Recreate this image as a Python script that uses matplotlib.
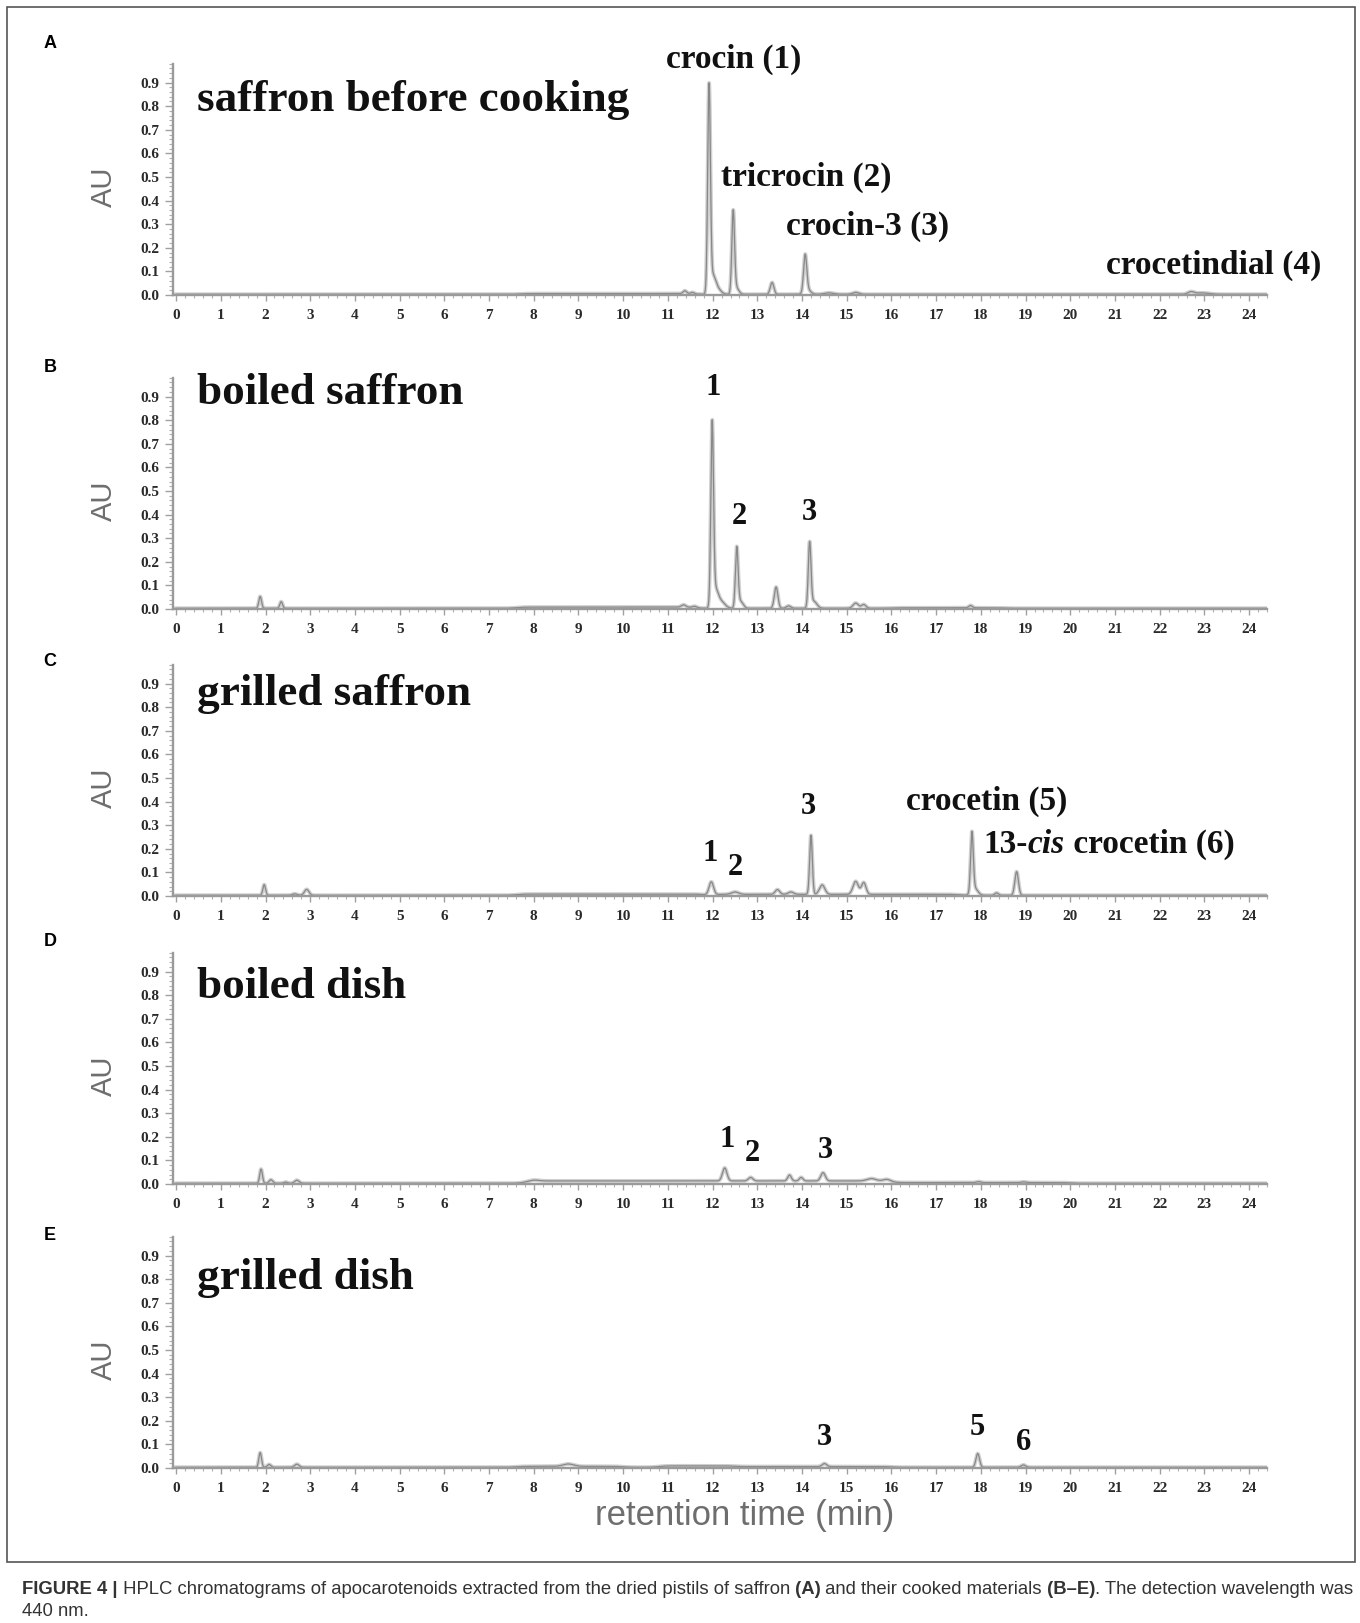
import numpy as np
import matplotlib
matplotlib.use("Agg")
import matplotlib.pyplot as plt
from matplotlib.patches import Rectangle
from matplotlib.ticker import MultipleLocator
from matplotlib.transforms import IdentityTransform

W, H = 1360, 1623

# detector time axis (min)
t = np.arange(0.0, 24.4, 0.004)
base_level = 0.003

letters = ["A", "B", "C", "D", "E"]
titles = ["saffron before cooking", "boiled saffron", "grilled saffron",
          "boiled dish", "grilled dish"]
title_y = [0.78, 0.87, 0.81, 0.79, 0.76]

# peak tables: retention time (min), height (AU), width (min)
A_rt = [11.38, 11.55, 11.92, 12.00, 12.10, 12.46, 12.52, 13.33, 14.07, 14.12, 14.6, 15.2, 22.7, 22.95]
A_h = [0.012, 0.006, 0.865, 0.07, 0.025, 0.34, 0.03, 0.05, 0.155, 0.02, 0.006, 0.008, 0.010, 0.006]
A_w = [0.04, 0.04, 0.03, 0.06, 0.08, 0.03, 0.06, 0.04, 0.035, 0.07, 0.1, 0.07, 0.07, 0.15]
A_drift = [(7.7, 11.6, 0.003)]

B_rt = [1.88, 2.35, 11.35, 11.6, 11.99, 12.06, 12.18, 12.54, 12.62, 13.42, 13.7, 14.17, 14.26, 15.2, 15.38, 17.77]
B_h = [0.05, 0.028, 0.01, 0.006, 0.76, 0.07, 0.03, 0.25, 0.03, 0.09, 0.01, 0.27, 0.03, 0.022, 0.016, 0.01]
B_w = [0.03, 0.03, 0.05, 0.05, 0.03, 0.06, 0.09, 0.03, 0.06, 0.04, 0.05, 0.03, 0.07, 0.06, 0.05, 0.04]
B_drift = [(7.6, 11.6, 0.005), (16.0, 18.5, 0.002)]

C_rt = [1.97, 2.65, 2.92, 11.97, 12.5, 13.45, 13.75, 14.2, 14.45, 15.2, 15.38, 17.8, 17.86, 18.35, 18.8]
C_h = [0.045, 0.006, 0.025, 0.055, 0.01, 0.02, 0.01, 0.25, 0.04, 0.055, 0.05, 0.25, 0.03, 0.01, 0.1]
C_w = [0.03, 0.05, 0.05, 0.05, 0.08, 0.05, 0.06, 0.03, 0.06, 0.06, 0.05, 0.03, 0.07, 0.04, 0.04]
C_drift = [(7.6, 11.8, 0.005), (12.0, 17.5, 0.004)]

D_rt = [1.9, 2.12, 2.45, 2.7, 8.0, 12.27, 12.85, 13.72, 13.98, 14.47, 15.55, 15.9, 17.95, 18.95]
D_h = [0.06, 0.015, 0.005, 0.013, 0.004, 0.055, 0.015, 0.025, 0.015, 0.035, 0.01, 0.008, 0.004, 0.003]
D_w = [0.03, 0.04, 0.04, 0.05, 0.1, 0.05, 0.05, 0.04, 0.04, 0.05, 0.1, 0.08, 0.05, 0.05]
D_drift = [(7.8, 16.0, 0.01), (16.0, 20.0, 0.003)]

E_rt = [1.88, 2.08, 2.7, 8.77, 14.5, 17.93, 18.95]
E_h = [0.062, 0.012, 0.013, 0.01, 0.013, 0.058, 0.01]
E_w = [0.03, 0.04, 0.05, 0.12, 0.05, 0.04, 0.05]
E_drift = [(7.6, 10.0, 0.004), (10.8, 12.5, 0.006), (12.5, 16.0, 0.003)]

# peak annotations: text, retention time, AU
A_labels = [("crocin (1)", 12.48, 1.00), ("tricrocin (2)", 14.1, 0.50),
            ("crocin-3 (3)", 15.46, 0.29), ("crocetindial (4)", 23.2, 0.127)]
B_labels = [("1", 12.01, 0.94), ("2", 12.6, 0.39), ("3", 14.16, 0.41)]
C_labels = [("1", 11.95, 0.18), ("2", 12.5, 0.12), ("3", 14.15, 0.38),
            ("crocetin (5)", 18.12, 0.40)]
D_labels = [("1", 12.33, 0.19), ("2", 12.89, 0.13), ("3", 14.52, 0.14)]
E_labels = [("3", 14.5, 0.13), ("5", 17.93, 0.17), ("6", 18.95, 0.11)]

panels = [(A_rt, A_h, A_w, A_drift, A_labels),
          (B_rt, B_h, B_w, B_drift, B_labels),
          (C_rt, C_h, C_w, C_drift, C_labels),
          (D_rt, D_h, D_w, D_drift, D_labels),
          (E_rt, E_h, E_w, E_drift, E_labels)]

# layout in reference pixels
zero_px = [295, 609, 896, 1184, 1468]
letter_px = [43, 368, 662, 942, 1236]
px_per_au = 236
ax_left, ax_right = 173, 1267
ymax = 0.98


def trace(rt, h, w, drift):
    y = np.full_like(t, base_level)
    for r, hh, ww in zip(rt, h, w):
        y += hh * np.exp(-0.5 * ((t - r) / ww) ** 2)
    for a, b, lv in drift:
        y += lv * 0.5 * (np.tanh((t - a) / 0.15) - np.tanh((t - b) / 0.15))
    return y


fig = plt.figure(figsize=(W / 100, H / 100), dpi=100)
renderer = fig.canvas.get_renderer()


def runs_at(x, y, runs, size, family, color, va="baseline"):
    # place consecutive text pieces in display pixels
    for s, weight, style in runs:
        txt = fig.text(x, y, s, transform=IdentityTransform(), fontsize=size,
                       family=family, weight=weight, style=style, color=color,
                       ha="left", va=va)
        x += txt.get_window_extent(renderer).width
    return x


serif = "Liberation Serif"
sans = "Liberation Sans"

for i, (rt, h, w, drift, labels) in enumerate(panels):
    y0 = zero_px[i]
    ax = fig.add_axes([ax_left / W, 1 - y0 / H, (ax_right - ax_left) / W,
                       ymax * px_per_au / H])
    y = trace(rt, h, w, drift)
    ax.plot(t, y, color="#cfcfcf", lw=2.8, solid_joinstyle="round")
    ax.plot(t, y, color="#888888", lw=0.9)
    ax.set_xlim(-0.07, 24.4)
    ax.set_ylim(0, ymax)

    for s in ["top", "right"]:
        ax.spines[s].set_visible(False)
    for s in ["left", "bottom"]:
        ax.spines[s].set_color("#9a9a9a")
        ax.spines[s].set_linewidth(1.7)

    ax.set_yticks(np.arange(0, 0.95, 0.1))
    ax.set_yticklabels([f"{v:.1f}" for v in np.arange(0, 0.95, 0.1)])
    ax.yaxis.set_minor_locator(MultipleLocator(0.02))
    ax.set_xticks(range(25))
    ax.xaxis.set_minor_locator(MultipleLocator(0.2))
    ax.tick_params(axis="y", which="major", length=6, width=1, color="#a0a0a0", pad=4)
    ax.tick_params(axis="y", which="minor", length=3, width=0.8, color="#b0b0b0")
    ax.tick_params(axis="x", which="major", length=4, width=1, color="#a0a0a0", pad=6)
    ax.tick_params(axis="x", which="minor", length=2.5, width=0.8, color="#b0b0b0")
    for lab in ax.get_xticklabels() + ax.get_yticklabels():
        lab.set_family(serif)
        lab.set_weight("bold")
        lab.set_fontsize(11)
        lab.set_color("#2a2a2a")

    ax.text(0.47, title_y[i], titles[i], fontsize=32.5, family=serif, weight="bold",
            ha="left", va="baseline", color="#111111")
    for s, x, yy in labels:
        size = 22 if s.isdigit() else 24
        ax.text(x, yy, s, fontsize=size, family=serif, weight="bold",
                ha="center", va="center", color="#111111", clip_on=False)

    if i == 2:
        xd, yd = ax.transData.transform((18.05, 0.22))
        runs_at(xd, yd, [("13-", "bold", "normal"), ("cis", "bold", "italic"),
                         (" crocetin (6)", "bold", "normal")],
                24, serif, "#111111", va="center")

    fig.text(50 / W, 1 - letter_px[i] / H, letters[i], fontsize=13, family=sans,
             weight="bold", ha="center", va="center")
    fig.text(104 / W, 1 - (y0 - 0.46 * px_per_au) / H, "AU", rotation=90,
             fontsize=21, family=sans, color="#6e6e6e", ha="center", va="center")

fig.text(745 / W, 1 - 1515 / H, "retention time (min)", fontsize=25, family=sans,
         color="#6e6e6e", ha="center", va="center")

fig.patches.append(Rectangle((7 / W, 1 - 1562 / H), (1355 - 7) / W, (1562 - 7) / H,
                             transform=fig.transFigure, fill=False,
                             edgecolor="#555555", lw=1.2))

cap_size = 13.3
runs_at(22, H - 1594, [("FIGURE 4 |", "bold", "normal"),
                       (" HPLC chromatograms of apocarotenoids extracted from the dried pistils of saffron", "normal", "normal"),
                       (" (A)", "bold", "normal"),
                       (" and their cooked materials", "normal", "normal"),
                       (" (B\u2013E)", "bold", "normal"),
                       (". The detection wavelength was", "normal", "normal")],
        cap_size, sans, "#333333")
runs_at(22, H - 1616, [("440 nm.", "normal", "normal")], cap_size, sans, "#333333")

fig.savefig("out.png", dpi=100)
